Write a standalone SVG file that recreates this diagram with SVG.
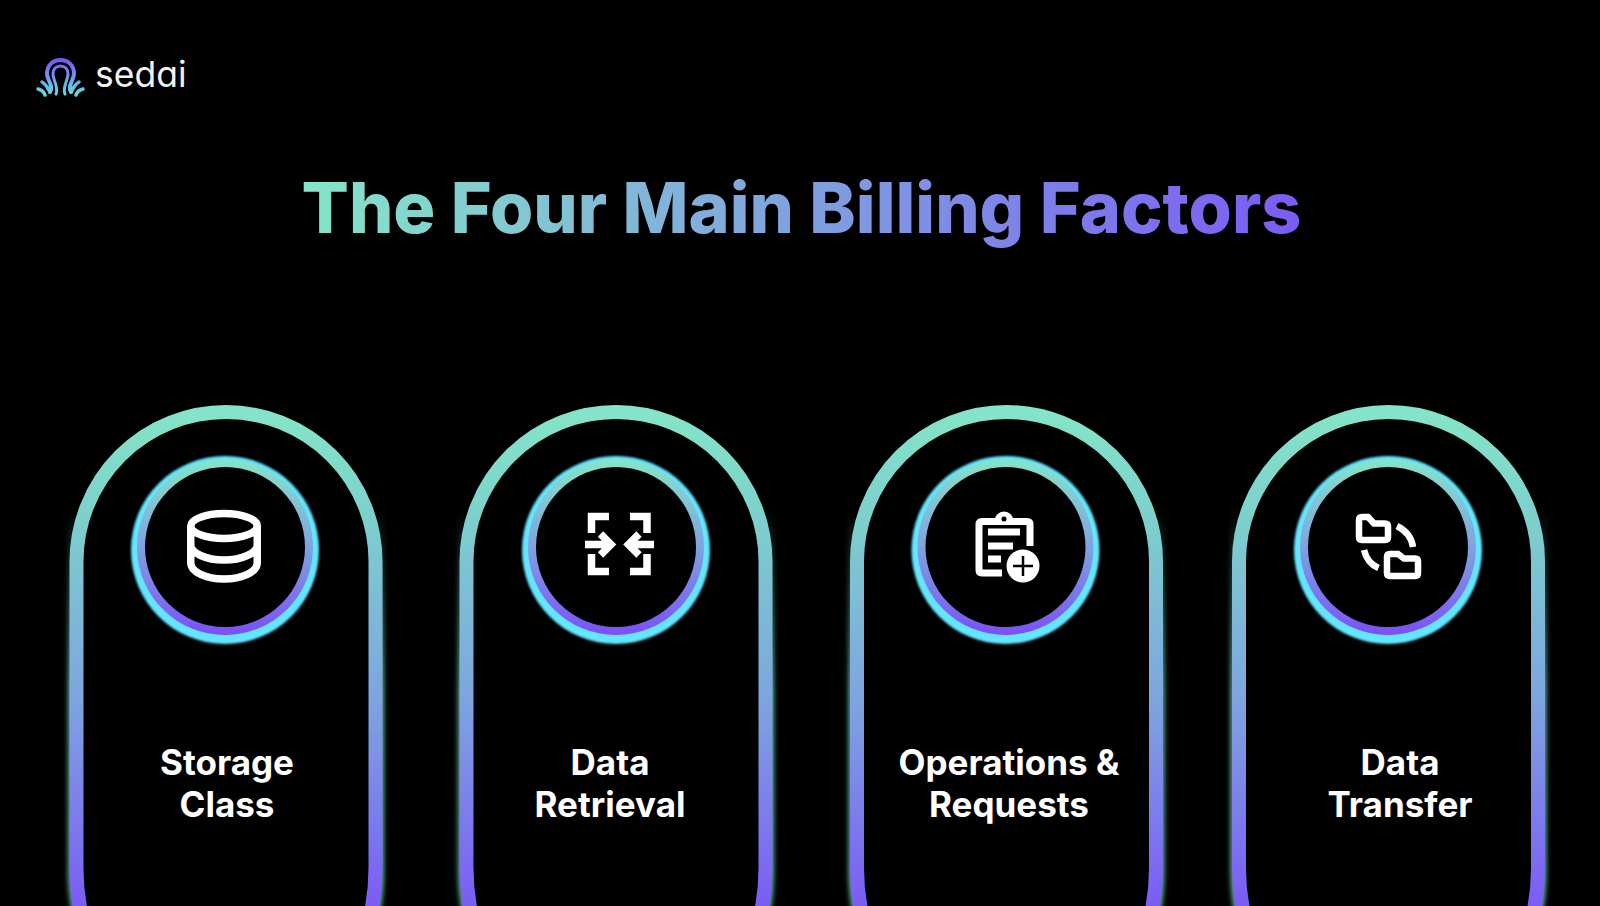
<svg xmlns="http://www.w3.org/2000/svg" width="1600" height="906" viewBox="0 0 1600 906">
<style>
.lbl{font-family:Inter,"Liberation Sans",sans-serif;font-weight:700;font-size:35px;fill:#fff;text-anchor:middle}
.pill{fill:#000;stroke:url(#pg);stroke-width:14}
.pglow{fill:none;stroke:url(#gg);stroke-width:17;filter:url(#b1)}
.halo{fill:#64e6ff;filter:url(#b2)}
.ring{fill:url(#rg)}
.ic{fill:none;stroke:#fff;stroke-width:7}
</style>
<defs>
<linearGradient id="pg" gradientUnits="userSpaceOnUse" x1="0" y1="-7" x2="0" y2="494"><stop offset="0" stop-color="#85e5c8"/><stop offset=".2" stop-color="#7dd3cb"/><stop offset=".6" stop-color="#7ea3e0"/><stop offset="1" stop-color="#7b5cf5"/></linearGradient>
<linearGradient id="gg" gradientUnits="userSpaceOnUse" x1="0" y1="510" x2="0" y2="690"><stop offset="0" stop-color="#7fe6c8" stop-opacity="0"/><stop offset="1" stop-color="#7fe6c8" stop-opacity=".75"/></linearGradient>
<linearGradient id="rg" x1="0" y1="0" x2="0" y2="1"><stop offset="0" stop-color="#85e5c8"/><stop offset=".5" stop-color="#7ea3e0"/><stop offset="1" stop-color="#7b4ff8"/></linearGradient>
<linearGradient id="tg" gradientUnits="userSpaceOnUse" x1="303" y1="0" x2="1300" y2="0"><stop offset="0" stop-color="#85e5c8"/><stop offset="1" stop-color="#7b5cf5"/></linearGradient>
<linearGradient id="lg" gradientUnits="userSpaceOnUse" x1="0" y1="58" x2="0" y2="96"><stop offset="0" stop-color="#7b4ff8"/><stop offset="1" stop-color="#62e3e0"/></linearGradient>
<filter id="b1" x="-20%" y="-20%" width="140%" height="140%"><feGaussianBlur stdDeviation="2.6"/></filter>
<filter id="b2" x="-20%" y="-20%" width="140%" height="140%"><feGaussianBlur stdDeviation="1.1"/></filter>
<path id="shape" d="M0 149.5A149.5 149.5 0 0 1 299 149.5V456A220 220 0 0 1 79 676H220A220 220 0 0 1 0 456Z"/>
<path id="gl" d="M0 510V868A220 220 0 0 0 8 930M299 510V868A220 220 0 0 1 291 930"/>
</defs>
<rect width="1600" height="906" fill="#000"/>
<g id="logo" fill="none" stroke="url(#lg)" stroke-width="3.5" stroke-linecap="round">
<path d="M50 92C54 86 47 80 47 74C47 65 53 60 60.500 60C68 60 74 65 74 74C74 80 67 86 71 92" stroke-width="4"/>
<path d="M56 94C59 88 53 80 53 74C53 69 56 66 60.500 66C65 66 68 69 68 74C68 80 62 88 65 94" stroke-width="3"/>
<path d="M38 89C42 90 44 92 45 95M42 82C46 84 47 87 50 92M83 89C79 90 77 92 76 95M79 82C75 84 74 87 71 92"/>
</g>
<text id="logo-text" x="95" y="87" font-family="Inter,sans-serif" font-size="35.500" fill="#f2f2f2" style="font-feature-settings:'cv11'">sedai</text>
<text id="title" x="801.500" y="233" text-anchor="middle" font-family="Inter,sans-serif" font-weight="800" font-size="70" fill="url(#tg)">The Four Main Billing Factors</text>
<g id="connectors"></g>
<g id="n1">
<use href="#gl" class="pglow" x="76.500"/><use href="#shape" class="pill" x="76.500" y="412"/>
<circle class="halo" cx="225" cy="550" r="94"/><circle class="ring" cx="225" cy="547" r="88"/><circle cx="225" cy="547" r="80"/>
<g class="ic" style="stroke-width:7.500"><ellipse cx="224" cy="526" rx="33.250" ry="12.500"/><path d="M190.750 526V563C190.750 572 206 579 224 579C242 579 257.250 572 257.250 563V526M190.750 545C190.750 553 206 560 224 560C242 560 257.250 553 257.250 545"/></g>
<text class="lbl" x="227" y="775">Storage</text><text class="lbl" x="227" y="817">Class</text>
</g>
<g id="n2">
<use href="#gl" class="pglow" x="466.500"/><use href="#shape" class="pill" x="466.500" y="412"/>
<circle class="halo" cx="616" cy="550" r="94"/><circle class="ring" cx="616" cy="547" r="88"/><circle cx="616" cy="547" r="80"/>
<g class="ic" style="stroke-width:7.500"><path d="M609 516.500H591.500V533M609 571.500H591.500V554M630 516.500H647V533M630 571.500H647V554M585 544.500H610M600.500 534L611 544.500L600.500 555M654 544.500H629M639 534L628.500 544.500L639 555"/></g>
<text class="lbl" x="610" y="775">Data</text><text class="lbl" x="610" y="817">Retrieval</text>
</g>
<g id="n3">
<use href="#gl" class="pglow" x="857"/><use href="#shape" class="pill" x="857" y="412"/>
<circle class="halo" cx="1005.500" cy="550" r="94"/><circle class="ring" cx="1005.500" cy="547" r="88"/><circle cx="1005.500" cy="547" r="80"/>
<g class="ic"><path d="M996 521.500H982Q979 521.500 979 524.500V570Q979 573 982 573H1002M1012 521.500H1027Q1030 521.500 1030 524.500V546M988 532H1020M988 546H1013M988 559H1001"/></g>
<path fill="#fff" d="M992 525V521H994.500a9.500 9.500 0 0 1 19 0H1016V525z"/>
<circle cx="1004" cy="519" r="2.500"/>
<circle cx="1023" cy="566" r="19"/>
<circle cx="1023" cy="566" r="16.500" fill="#fff"/><path d="M1023 556V576M1013 566H1033" stroke="#000" stroke-width="2.500"/>
<text class="lbl" x="1009" y="775">Operations &amp;</text><text class="lbl" x="1009" y="817">Requests</text>
</g>
<g id="n4">
<use href="#gl" class="pglow" x="1239"/><use href="#shape" class="pill" x="1239" y="412"/>
<circle class="halo" cx="1388" cy="550" r="94"/><circle class="ring" cx="1388" cy="547" r="88"/><circle cx="1388" cy="547" r="80"/>
<g class="ic" style="stroke-width:6.500"><path d="M1362 517H1368L1374 523.500H1385Q1388 523.500 1388 526.500V537Q1388 540 1385 540H1362Q1359 540 1359 537V520Q1359 517 1362 517Z"/><path d="M1390 554H1398L1404 558.500H1415Q1418 558.500 1418 561.500V573Q1418 576 1415 576H1390Q1387 576 1387 573V557Q1387 554 1390 554Z"/><path d="M1397 526Q1411 533 1413 547M1364 550Q1367 563 1378.500 568"/></g>
<text class="lbl" x="1400" y="775">Data</text><text class="lbl" x="1400" y="817">Transfer</text>
</g>
</svg>
